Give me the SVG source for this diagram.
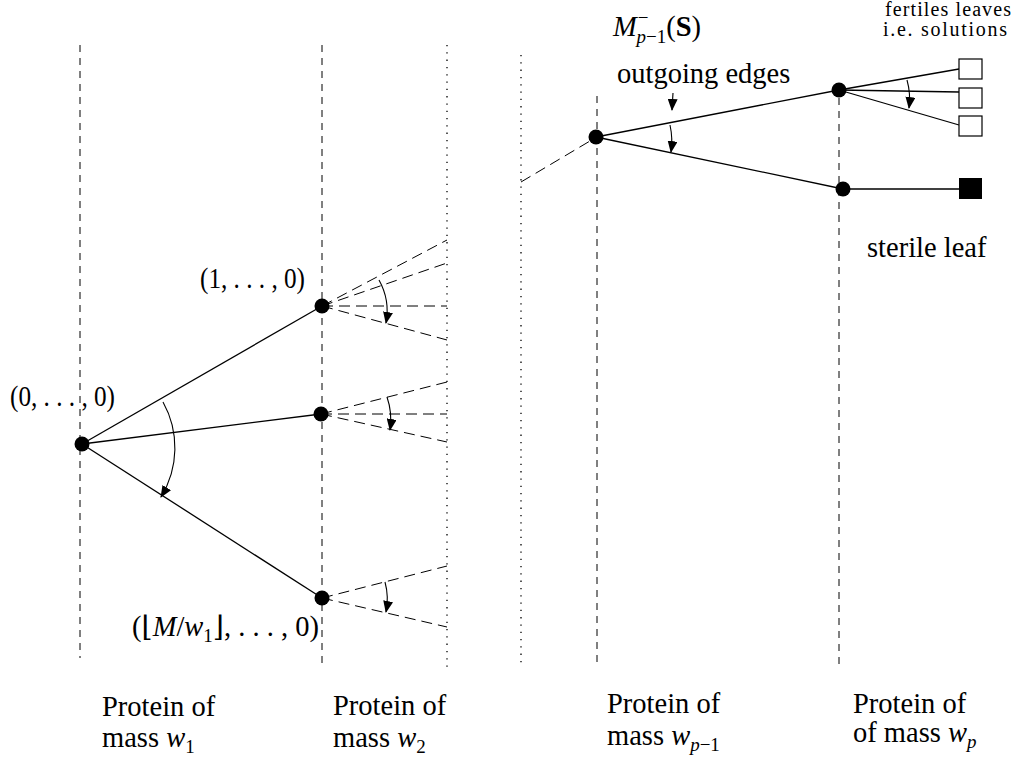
<svg xmlns="http://www.w3.org/2000/svg" width="1018" height="761" viewBox="0 0 1018 761">
<style>
.t{font-size:28.5px}
.s{font-size:20px}
.i{font-style:italic}
.b{font-weight:bold}
.vd{stroke:#000;stroke-width:1;stroke-dasharray:7,6;fill:none}
.vt{stroke:#000;stroke-width:1.3;stroke-dasharray:1.3,6;fill:none}
.e{stroke:#000;stroke-width:1.3;fill:none}
.fd{stroke:#000;stroke-width:1;stroke-dasharray:11,6;fill:none}
.a{stroke:#000;stroke-width:1.1;fill:none;marker-end:url(#ah)}
.n{fill:#000}
</style>
<defs>
<marker id="ah" viewBox="0 0 12 10" refX="11" refY="5" markerWidth="12" markerHeight="10" markerUnits="userSpaceOnUse" orient="auto">
<path d="M0,0 L12,5 L0,10 z" fill="#000"/>
</marker>
</defs>
<g id="guides">
<line class="vd" x1="80" y1="45" x2="80" y2="658"/>
<line class="vd" x1="322" y1="45" x2="322" y2="668"/>
<line class="vt" x1="447" y1="45" x2="447" y2="668"/>
<line class="vt" x1="521" y1="55" x2="521" y2="668"/>
<line class="vd" x1="597" y1="96" x2="597" y2="668"/>
<line class="vd" x1="839" y1="98" x2="839" y2="668"/>
</g>
<g id="connectors">
<line class="e" x1="82" y1="444" x2="322" y2="306"/>
<line class="e" x1="82" y1="444" x2="321" y2="414"/>
<line class="e" x1="82" y1="444" x2="322" y2="598"/>
<line class="fd" x1="322" y1="306" x2="447" y2="240"/>
<line class="fd" x1="322" y1="306" x2="447" y2="263"/>
<line class="fd" x1="322" y1="306" x2="447" y2="306"/>
<line class="fd" x1="322" y1="306" x2="447" y2="340"/>
<line class="fd" x1="321" y1="414" x2="447" y2="382"/>
<line class="fd" x1="321" y1="414" x2="447" y2="414"/>
<line class="fd" x1="321" y1="414" x2="447" y2="442"/>
<line class="fd" x1="322" y1="598" x2="447" y2="566"/>
<line class="fd" x1="322" y1="598" x2="447" y2="627"/>
<line class="fd" x1="521" y1="182" x2="590" y2="141"/>
<line class="e" x1="596" y1="137" x2="839" y2="90"/>
<line class="e" x1="596" y1="137" x2="843" y2="189"/>
<line class="e" x1="839" y1="90" x2="959" y2="69"/>
<line class="e" x1="839" y1="90" x2="959" y2="92"/>
<line class="e" x1="839" y1="90" x2="959" y2="125"/>
<line class="e" x1="843" y1="189" x2="959" y2="189"/>
<path class="a" d="M163,402 A94,94 0 0 1 161,497"/>
<path class="a" d="M379,280 A64,64 0 0 1 386,323"/>
<path class="a" d="M387,397 A69,69 0 0 1 390,430"/>
<path class="a" d="M385,582 A65,65 0 0 1 386,612"/>
<path class="a" d="M673,93 L672,110"/>
<path class="a" d="M670,125 A75,75 0 0 1 671,152"/>
<path class="a" d="M907,80 A70,70 0 0 1 909,108"/>
</g>
<g id="root"><circle class="n" cx="82" cy="444" r="7.5"/></g>
<g id="n1"><circle class="n" cx="322" cy="306" r="7.5"/></g>
<g id="n2"><circle class="n" cx="321" cy="414" r="7.5"/></g>
<g id="n3"><circle class="n" cx="322" cy="598" r="7.5"/></g>
<g id="np1"><circle class="n" cx="596" cy="137" r="7.5"/></g>
<g id="np_a"><circle class="n" cx="839" cy="90" r="7.5"/></g>
<g id="np_b"><circle class="n" cx="843" cy="189" r="7.5"/></g>
<g id="leaf1"><rect x="959" y="59" width="23" height="20" fill="#fff" stroke="#000" stroke-width="1.2"/></g>
<g id="leaf2"><rect x="959" y="88" width="23" height="20" fill="#fff" stroke="#000" stroke-width="1.2"/></g>
<g id="leaf3"><rect x="959" y="116" width="23" height="20" fill="#fff" stroke="#000" stroke-width="1.2"/></g>
<g id="sterile"><rect x="959" y="178" width="23" height="21" fill="#000"/></g>
<g id="labels" font-family="'Liberation Serif', 'Times New Roman', Times, 'DejaVu Serif', serif" fill="#000">
<text class="t" x="10" y="406" textLength="105" lengthAdjust="spacingAndGlyphs">(0, . . . , 0)</text>
<text class="t" x="200" y="288" textLength="105" lengthAdjust="spacingAndGlyphs">(1, . . . , 0)</text>
<text class="t" x="132" y="636">(⌊<tspan class="i">M</tspan>/<tspan class="i">w</tspan><tspan font-size="19" dy="6">1</tspan><tspan dy="-6">⌋, . . . , 0)</tspan></text>
<text class="t" x="613" y="36"><tspan class="i">M</tspan><tspan font-size="19" dx="1" dy="-12">−</tspan><tspan font-size="19" dx="-12" dy="19"><tspan class="i">p</tspan>−1</tspan><tspan dy="-7">(<tspan class="b">S</tspan>)</tspan></text>
<text class="t" x="617" y="83">outgoing edges</text>
<text class="s" x="885" y="16" textLength="126" lengthAdjust="spacing">fertiles leaves</text>
<text class="s" x="883" y="36" textLength="124" lengthAdjust="spacing">i.e. solutions</text>
<text class="t" x="867" y="257">sterile leaf</text>
<text class="t" x="102" y="716">Protein of</text>
<text class="t" x="102" y="747">mass <tspan class="i">w</tspan><tspan font-size="19" dy="6">1</tspan></text>
<text class="t" x="333" y="715">Protein of</text>
<text class="t" x="333" y="747">mass <tspan class="i">w</tspan><tspan font-size="19" dy="6">2</tspan></text>
<text class="t" x="607" y="713">Protein of</text>
<text class="t" x="607" y="745">mass <tspan class="i">w</tspan><tspan font-size="19" dy="6"><tspan class="i">p</tspan>−1</tspan></text>
<text class="t" x="853" y="713">Protein of</text>
<text class="t" x="853" y="742">of mass <tspan class="i">w</tspan><tspan font-size="19" dy="6" class="i">p</tspan></text>
</g>
</svg>
